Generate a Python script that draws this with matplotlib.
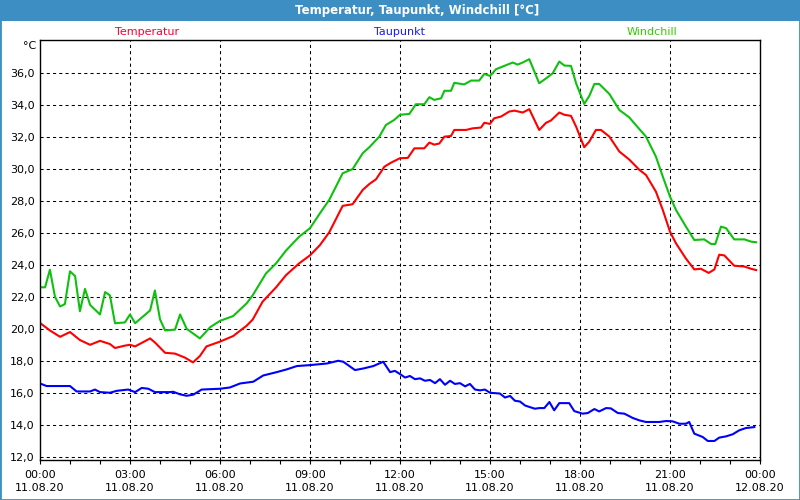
import matplotlib
matplotlib.use('Agg')
import matplotlib.pyplot as plt
from matplotlib.patches import Rectangle
from matplotlib.ticker import FixedLocator, MultipleLocator, FuncFormatter

#--- Data (hours since 11.08.20 00:00) -----------------------------------------

temp_h = [0, 0.33, 0.67, 1.0, 1.33, 1.67, 2.0, 2.33, 2.5, 2.83, 3.0, 3.17, 3.67, 3.83,
          4.17, 4.5, 4.83, 5.1, 5.33, 5.55, 6.0, 6.44, 6.89, 7.09, 7.42, 7.87, 8.2,
          8.64, 9.0, 9.33, 9.64, 10.09, 10.42, 10.76, 10.98, 11.2, 11.48, 11.7, 12.0,
          12.26, 12.48, 12.81, 12.98, 13.14, 13.31, 13.48, 13.7, 13.81, 14.2, 14.42,
          14.7, 14.81, 15.0, 15.14, 15.37, 15.64, 15.81, 16.09, 16.31, 16.64, 16.87,
          17.03, 17.31, 17.48, 17.7, 17.87, 18.14, 18.31, 18.53, 18.7, 18.98, 19.31,
          19.64, 19.98, 20.2, 20.53, 20.76, 21.0, 21.2, 21.53, 21.81, 22.03, 22.29,
          22.48, 22.64, 22.81, 23.14, 23.48, 23.7, 23.87]
temp = [20.37, 19.9, 19.5, 19.8, 19.3, 19.0, 19.25, 19.05, 18.8, 18.95, 19.0, 18.9, 19.4, 19.15,
        18.5, 18.45, 18.2, 17.9, 18.3, 18.9, 19.2, 19.55, 20.2, 20.58, 21.7, 22.6, 23.36,
        24.1, 24.6, 25.24, 26.04, 27.7, 27.8, 28.7, 29.07, 29.36, 30.15, 30.4, 30.68,
        30.7, 31.3, 31.3, 31.66, 31.53, 31.6, 32.03, 32.07, 32.45, 32.45, 32.55,
        32.6, 32.9, 32.83, 33.18, 33.29, 33.6, 33.66, 33.54, 33.75, 32.45, 32.9,
        33.04, 33.54, 33.4, 33.33, 32.66, 31.37, 31.72, 32.45, 32.45, 32.03, 31.1,
        30.6, 29.95, 29.63, 28.59, 27.44, 26.08, 25.35, 24.4, 23.72, 23.76, 23.5,
        23.72, 24.64, 24.6, 23.95, 23.9, 23.76, 23.68]

dew_h = [0, 0.22, 1.0, 1.22, 1.67, 1.83, 2.0, 2.33, 2.56, 2.94, 3.17, 3.39, 3.61, 3.83,
         4.33, 4.44, 4.67, 4.89, 5.11, 5.39, 6.0, 6.33, 6.67, 7.11, 7.44, 7.89, 8.22,
         8.56, 9.0, 9.56, 9.94, 10.11, 10.5, 10.78, 11.11, 11.44, 11.67, 11.83, 12.0,
         12.17, 12.33, 12.5, 12.67, 12.83, 13.0, 13.17, 13.33, 13.5, 13.67, 13.83, 14.0,
         14.17, 14.33, 14.5, 14.67, 14.83, 15.0, 15.33, 15.5, 15.67, 15.83, 16.0, 16.17,
         16.33, 16.5, 16.64, 16.81, 16.98, 17.14, 17.31, 17.64, 17.81, 18.09, 18.26,
         18.48, 18.64, 18.87, 19.03, 19.26, 19.48, 19.76, 19.98, 20.2, 20.64, 20.87,
         21.09, 21.31, 21.53, 21.64, 21.81, 22.09, 22.26, 22.48, 22.64, 22.87, 23.09,
         23.31, 23.53, 23.81]
dew = [16.58, 16.42, 16.42, 16.08, 16.08, 16.2, 16.04, 16.0, 16.12, 16.2, 16.04, 16.3, 16.25, 16.04,
       16.04, 16.06, 15.9, 15.81, 15.88, 16.2, 16.25, 16.33, 16.58, 16.69, 17.08, 17.29, 17.46,
       17.67, 17.73, 17.83, 18.0, 17.94, 17.42, 17.52, 17.67, 17.94, 17.29, 17.37, 17.17,
       16.95, 17.05, 16.85, 16.9, 16.75, 16.8, 16.6, 16.85, 16.5, 16.75, 16.55, 16.6,
       16.4, 16.55, 16.2, 16.15, 16.2, 16.0, 15.95, 15.7, 15.8, 15.5, 15.45, 15.2,
       15.1, 15.0, 15.04, 15.04, 15.42, 14.9, 15.35, 15.35, 14.85, 14.69, 14.73,
       14.98, 14.83, 15.04, 15.02, 14.73, 14.69, 14.42, 14.27, 14.17, 14.17, 14.23,
       14.21, 14.06, 14.06, 14.17, 13.44, 13.23, 12.98, 12.98, 13.19, 13.27, 13.4,
       13.65, 13.79, 13.85]

chill_h = [0, 0.17, 0.33, 0.5, 0.67, 0.83, 1.0, 1.17, 1.33, 1.5, 1.67, 2.0, 2.17, 2.33,
           2.5, 2.83, 3.0, 3.17, 3.67, 3.83, 4.0, 4.17, 4.5, 4.67, 4.89, 5.33, 5.67, 6.0,
           6.44, 6.89, 7.09, 7.53, 7.87, 8.2, 8.64, 9.0, 9.33, 9.64, 10.09, 10.42, 10.76,
           10.98, 11.31, 11.53, 11.81, 12.0, 12.31, 12.53, 12.81, 12.98, 13.14, 13.37,
           13.48, 13.7, 13.81, 14.14, 14.37, 14.64, 14.81, 15.0, 15.2, 15.53, 15.76, 15.92,
           16.09, 16.31, 16.64, 16.92, 17.09, 17.31, 17.48, 17.7, 17.87, 18.14, 18.31,
           18.48, 18.64, 18.98, 19.31, 19.64, 19.98, 20.2, 20.53, 20.76, 21.0, 21.2,
           21.53, 21.81, 22.14, 22.37, 22.51, 22.7, 22.87, 23.14, 23.48, 23.7, 23.87]
chill = [22.6, 22.6, 23.7, 22.0, 21.4, 21.55, 23.6, 23.3, 21.1, 22.5, 21.5, 20.9, 22.3, 22.1,
         20.35, 20.4, 20.9, 20.35, 21.15, 22.4, 20.6, 19.9, 19.95, 20.9, 20.0, 19.4, 20.1, 20.5,
         20.8, 21.6, 22.1, 23.46, 24.1, 24.9, 25.77, 26.3, 27.23, 28.07, 29.74, 30.0, 31.0,
         31.37, 32.03, 32.76, 33.08, 33.4, 33.45, 34.06, 34.06, 34.5, 34.33, 34.43,
         34.9, 34.9, 35.4, 35.3, 35.54, 35.54, 35.96, 35.83, 36.25, 36.5, 36.67, 36.54,
         36.67, 36.88, 35.37, 35.75, 36.0, 36.73, 36.48, 36.46, 35.37, 34.08, 34.58,
         35.33, 35.33, 34.7, 33.7, 33.24, 32.5, 32.03, 30.78, 29.53, 28.28, 27.44,
         26.4, 25.56, 25.6, 25.31, 25.31, 26.4, 26.3, 25.6, 25.6, 25.46, 25.42]

y_ticks = [12, 14, 16, 18, 20, 22, 24, 26, 28, 30, 32, 34, 36]
tick_hours = [0, 3, 6, 9, 12, 15, 18, 21, 24]
tick_labels = ['00:00\n11.08.20', '03:00\n11.08.20', '06:00\n11.08.20', '09:00\n11.08.20',
               '12:00\n11.08.20', '15:00\n11.08.20', '18:00\n11.08.20', '21:00\n11.08.20',
               '00:00\n12.08.20']

#--- Plot ----------------------------------------------------------------------

plt.rcParams['font.family'] = ['DejaVu Sans']
W, H = 800, 500
fig = plt.figure(figsize=(8, 5), dpi=100, facecolor='white')
ax = fig.add_axes([40/W, 40/H, 720/W, 420/H])

ax.plot(temp_h, temp, color='#ff0000', lw=1.5)
ax.plot(dew_h, dew, color='#0000ff', lw=1.5)
ax.plot(chill_h, chill, color='#10c010', lw=1.5)

ax.set_xlim(0, 24)
ax.set_ylim(11.79, 38.08)

ax.xaxis.set_major_locator(FixedLocator(tick_hours))
ax.set_xticklabels(tick_labels, fontsize=8, linespacing=1.35)
ax.xaxis.set_minor_locator(MultipleLocator(1))
ax.tick_params(axis='x', which='both', direction='out', length=3, width=0.8, pad=4)

ax.yaxis.set_major_locator(FixedLocator(y_ticks))
ax.yaxis.set_major_formatter(FuncFormatter(lambda v, p: f'{v:.1f}'.replace('.', ',')))
ax.tick_params(axis='y', length=0, pad=4, labelsize=8)

for v in y_ticks:
    ax.axhline(v, color='black', lw=0.75, linestyle=(0, (3, 3)), zorder=0)
for h in tick_hours[1:-1]:
    ax.axvline(h, color='black', lw=0.75, linestyle=(0, (3, 3)), zorder=0)

for s in ax.spines.values():
    s.set_linewidth(1)

# window frame and title bar
bar = '#3d8fc3'
fig.patches.append(Rectangle((0, 1 - 21/H), 1, 21/H, transform=fig.transFigure,
                             facecolor=bar, edgecolor='none', zorder=0))
fig.patches.append(Rectangle((0, 0), 1, 1, transform=fig.transFigure,
                             fill=False, edgecolor=bar, lw=2, zorder=1))
fig.text(417/W, 1 - 10.5/H, 'Temperatur, Taupunkt, Windchill [°C]', ha='center', va='center',
         color='white', fontsize=8.5, fontweight='bold')

fig.text(147/W, 1 - 32/H, 'Temperatur', ha='center', va='center', color='#ff0033', fontsize=8)
fig.text(399/W, 1 - 32/H, 'Taupunkt', ha='center', va='center', color='#1a1aff', fontsize=8)
fig.text(652/W, 1 - 32/H, 'Windchill', ha='center', va='center', color='#33cc00', fontsize=8)
fig.text(36/W, 1 - 46/H, '°C', ha='right', va='center', color='black', fontsize=8)

plt.savefig('out.png', dpi=100)
